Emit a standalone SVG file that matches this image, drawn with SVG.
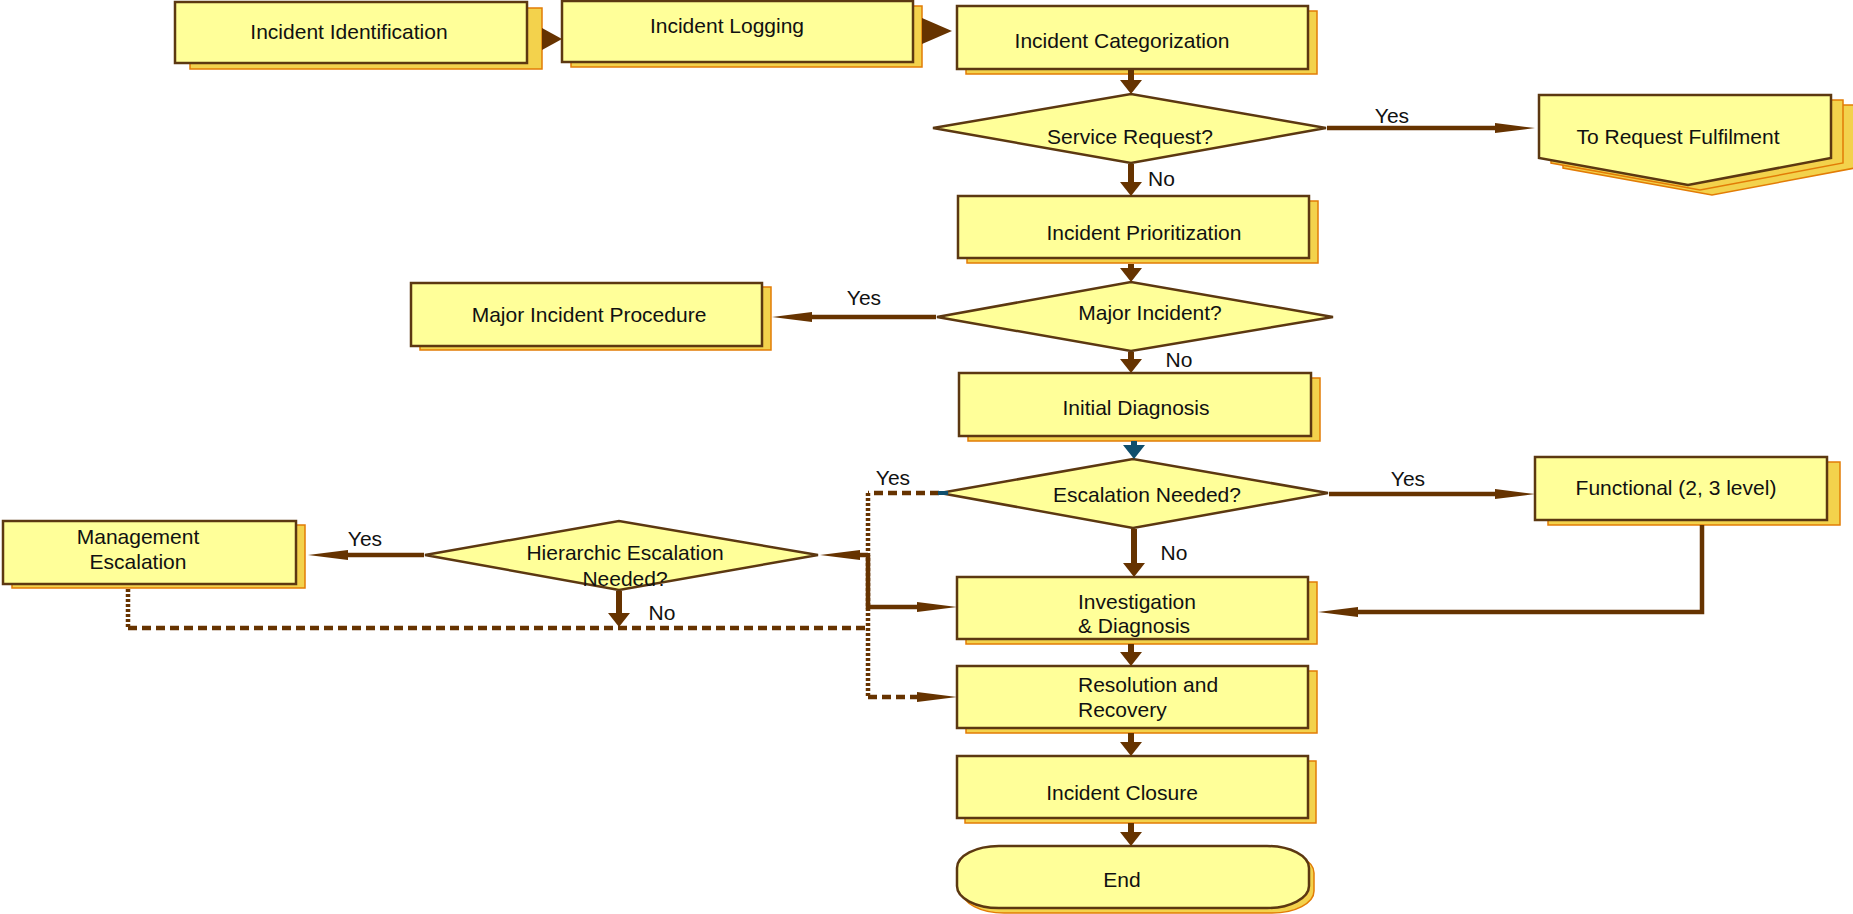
<svg xmlns="http://www.w3.org/2000/svg" width="1853" height="914" viewBox="0 0 1853 914">
  <style>
    .box{fill:#ffff99;stroke:#5c3811;stroke-width:2.5}
    .shd{fill:#f3d24c;stroke:#e27c06;stroke-width:1.5}
    .t{font-family:"Liberation Sans",Arial,sans-serif;font-size:21px;fill:#111;text-anchor:middle}
    .ts{font-family:"Liberation Sans",Arial,sans-serif;font-size:21px;fill:#111;text-anchor:start}
    .ln{fill:none;stroke:#663300;stroke-width:4.5}
    .sh{fill:none;stroke:#663300;stroke-width:6}
    .bl{fill:none;stroke:#0f4e6d;stroke-width:6}
    .dash{stroke-dasharray:9 5}
    .dot{stroke-dasharray:3 2}
    .head{fill:#663300}
  </style>
  <defs>
    <marker id="ah" markerUnits="userSpaceOnUse" markerWidth="14" markerHeight="22" refX="0" refY="11" orient="auto">
      <path d="M0,0 L14,11 L0,22 z" fill="#663300"/>
    </marker>
    <marker id="ahb" markerUnits="userSpaceOnUse" markerWidth="14" markerHeight="22" refX="0" refY="11" orient="auto">
      <path d="M0,0 L14,11 L0,22 z" fill="#0f4e6d"/>
    </marker>
    <marker id="al" markerUnits="userSpaceOnUse" markerWidth="40" markerHeight="10" refX="0" refY="5" orient="auto">
      <path d="M0,0 L40,5 L0,10 z" fill="#663300"/>
    </marker>
  </defs>

  <g id="incident-identification">
    <rect class="shd" x="190" y="8" width="352" height="61"/>
    <rect class="box" x="175" y="2" width="352" height="61"/>
    <text class="t" x="349" y="39">Incident Identification</text>
  </g>

  <g id="incident-logging">
    <rect class="shd" x="571" y="6" width="351" height="61"/>
    <rect class="box" x="562" y="1" width="351" height="61"/>
    <text class="t" x="727" y="33">Incident Logging</text>
  </g>

  <g id="incident-categorization">
    <rect class="shd" x="966" y="11" width="351" height="63"/>
    <rect class="box" x="957" y="6" width="351" height="63"/>
    <text class="t" x="1122" y="48">Incident Categorization</text>
  </g>

  <g id="service-request">
    <polygon class="box" points="933,128 1131,94 1326,128 1131,163"/>
    <text class="t" x="1130" y="144">Service Request?</text>
  </g>

  <g id="request-fulfilment">
    <polygon class="shd" points="1563,105 1855,105 1855,168 1712,195 1563,168"/>
    <polygon class="shd" points="1551,100 1843,100 1843,163 1700,190 1551,163"/>
    <polygon class="box" points="1539,95 1831,95 1831,158 1688,185 1539,158"/>
    <text class="t" x="1678" y="144">To Request Fulfilment</text>
  </g>

  <g id="incident-prioritization">
    <rect class="shd" x="967" y="201" width="351" height="62"/>
    <rect class="box" x="958" y="196" width="351" height="62"/>
    <text class="t" x="1144" y="240">Incident Prioritization</text>
  </g>

  <g id="major-incident">
    <polygon class="box" points="937,317 1131,282 1333,317 1131,351"/>
    <text class="t" x="1150" y="320">Major Incident?</text>
  </g>

  <g id="major-incident-procedure">
    <rect class="shd" x="420" y="287" width="351" height="63"/>
    <rect class="box" x="411" y="283" width="351" height="63"/>
    <text class="t" x="589" y="322">Major Incident Procedure</text>
  </g>

  <g id="initial-diagnosis">
    <rect class="shd" x="968" y="378" width="352" height="63"/>
    <rect class="box" x="959" y="373" width="352" height="63"/>
    <text class="t" x="1136" y="415">Initial Diagnosis</text>
  </g>

  <g id="escalation-needed">
    <polygon class="box" points="940,493 1133,459 1328,493 1133,528"/>
    <text class="t" x="1147" y="502">Escalation Needed?</text>
  </g>

  <g id="functional-escalation">
    <rect class="shd" x="1548" y="462" width="292" height="63"/>
    <rect class="box" x="1535" y="457" width="292" height="63"/>
    <text class="t" x="1676" y="495">Functional (2, 3 level)</text>
  </g>

  <g id="hierarchic-escalation">
    <polygon class="box" points="425,555 619,521 818,555 619,590"/>
    <text class="t" x="625" y="560">Hierarchic Escalation</text>
    <text class="t" x="625" y="586">Needed?</text>
  </g>

  <g id="management-escalation">
    <rect class="shd" x="12" y="525" width="293" height="63"/>
    <rect class="box" x="3" y="521" width="293" height="63"/>
    <text class="t" x="138" y="544">Management</text>
    <text class="t" x="138" y="569">Escalation</text>
  </g>

  <g id="investigation-diagnosis">
    <rect class="shd" x="966" y="582" width="351" height="62"/>
    <rect class="box" x="957" y="577" width="351" height="62"/>
    <text class="ts" x="1078" y="609">Investigation</text>
    <text class="ts" x="1078" y="633">&amp; Diagnosis</text>
  </g>

  <g id="resolution-recovery">
    <rect class="shd" x="966" y="671" width="351" height="62"/>
    <rect class="box" x="957" y="666" width="351" height="62"/>
    <text class="ts" x="1078" y="692">Resolution and</text>
    <text class="ts" x="1078" y="717">Recovery</text>
  </g>

  <g id="incident-closure">
    <rect class="shd" x="965" y="761" width="351" height="62"/>
    <rect class="box" x="957" y="756" width="351" height="62"/>
    <text class="t" x="1122" y="800">Incident Closure</text>
  </g>

  <g id="end">
    <rect class="shd" x="962" y="851" width="352" height="62" rx="42" ry="22"/>
    <rect class="box" x="957" y="846" width="352" height="62" rx="42" ry="22"/>
    <text class="t" x="1122" y="887">End</text>
  </g>

  <!-- connectors, drawn over the nodes -->
  <g id="connectors">
    <polygon class="head" points="542,28 562,39 542,50"/>
    <polygon class="head" points="922,18 952,31 922,44"/>
    <line class="sh" x1="1131" y1="70" x2="1131" y2="80" marker-end="url(#ah)"/>
    <line class="sh" x1="1131" y1="164" x2="1131" y2="182" marker-end="url(#ah)"/>
    <line class="ln" x1="1327" y1="128" x2="1495" y2="128" marker-end="url(#al)"/>
    <line class="sh" x1="1131" y1="264" x2="1131" y2="268" marker-end="url(#ah)"/>
    <line class="ln" x1="936" y1="317" x2="812" y2="317" marker-end="url(#al)"/>
    <line class="sh" x1="1131" y1="352" x2="1131" y2="359" marker-end="url(#ah)"/>
    <line class="bl" x1="1134" y1="441" x2="1134" y2="445" marker-end="url(#ahb)"/>
    <line class="sh" x1="1134" y1="529" x2="1134" y2="563" marker-end="url(#ah)"/>
    <line class="ln" x1="1329" y1="494" x2="1495" y2="494" marker-end="url(#al)"/>
    <path class="ln" d="M1702,525 L1702,612 L1358,612" marker-end="url(#al)"/>
    <path class="ln dash" d="M939,493 L868,493"/>
    <line x1="948" y1="493" x2="938" y2="493" stroke="#0f4e6d" stroke-width="4"/>
    <path class="ln dot" d="M868,493 L868,697"/>
    <path class="ln dash" d="M868,697 L917,697" marker-end="url(#al)"/>
    <line class="ln" x1="868" y1="555" x2="860" y2="555" marker-end="url(#al)"/>
    <path class="ln" d="M868,555 L868,607 L917,607" marker-end="url(#al)"/>
    <line class="ln" x1="424" y1="555" x2="348" y2="555" marker-end="url(#al)"/>
    <line class="sh" x1="619" y1="591" x2="619" y2="613" marker-end="url(#ah)"/>
    <path class="ln dot" d="M128,589 L128,628"/>
    <path class="ln dash" d="M128,628 L868,628"/>
    <line class="sh" x1="1131" y1="644" x2="1131" y2="652" marker-end="url(#ah)"/>
    <line class="sh" x1="1131" y1="733" x2="1131" y2="742" marker-end="url(#ah)"/>
    <line class="sh" x1="1131" y1="823" x2="1131" y2="832" marker-end="url(#ah)"/>

    <text class="t" x="1392" y="123">Yes</text>
    <text class="ts" x="1148" y="186">No</text>
    <text class="t" x="864" y="305">Yes</text>
    <text class="t" x="1179" y="367">No</text>
    <text class="t" x="893" y="485">Yes</text>
    <text class="t" x="1408" y="486">Yes</text>
    <text class="t" x="1174" y="560">No</text>
    <text class="t" x="365" y="546">Yes</text>
    <text class="t" x="662" y="620">No</text>
  </g>
</svg>
